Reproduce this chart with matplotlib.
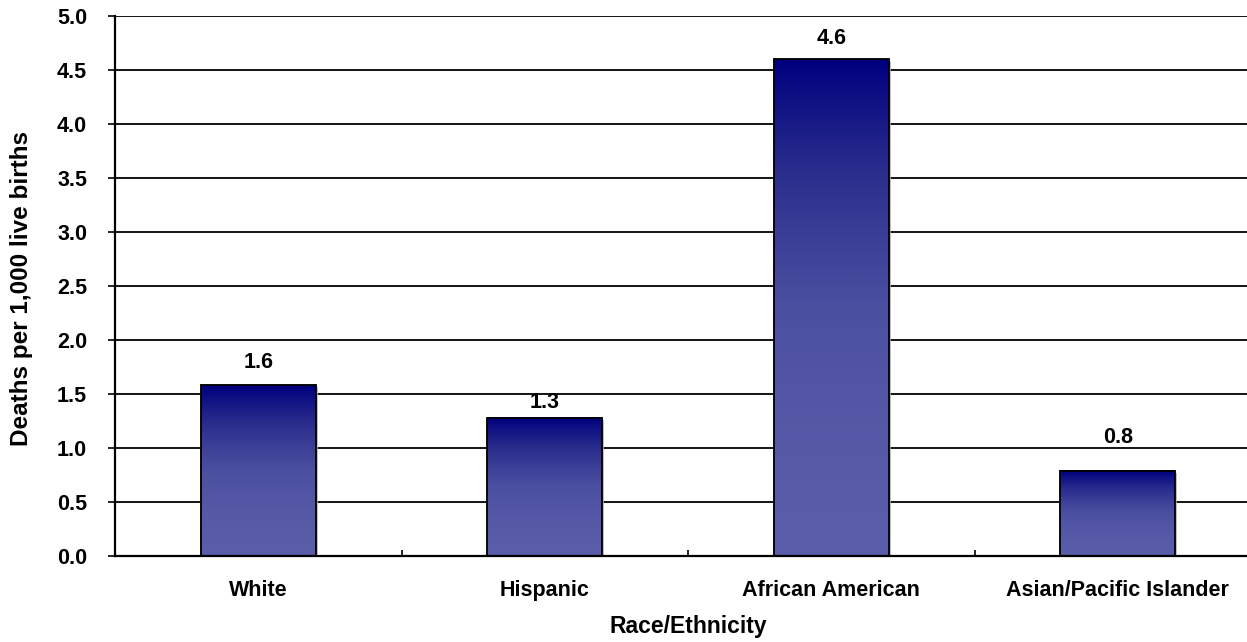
import numpy as np
import matplotlib.pyplot as plt
import matplotlib.patheffects as pe
from matplotlib.colors import LinearSegmentedColormap

categories = ['White', 'Hispanic', 'African American', 'Asian/Pacific Islander']
rates = [1.58, 1.28, 4.6, 0.79]
rate_labels = ['1.6', '1.3', '4.6', '0.8']
yticks = [0.0, 0.5, 1.0, 1.5, 2.0, 2.5, 3.0, 3.5, 4.0, 4.5, 5.0]

plt.rcParams['font.family'] = ['Liberation Sans', 'DejaVu Sans']
plt.rcParams['font.weight'] = 'bold'

fig = plt.figure(figsize=(12.47, 6.42), dpi=100)
# the plot area runs past the right edge, as in the original
ax = fig.add_axes([115 / 1247, 86 / 642, 1146 / 1247, 540 / 642])

# degradé du bleu marine (haut) vers le bleu ardoise (bas)
cmap = LinearSegmentedColormap.from_list('bar', ['#5a5da9', '#4b4fa0', '#2a2d8c', '#00007f'])
x = np.arange(len(categories))
width = 0.40
grad = np.linspace(0, 1, 256).reshape(-1, 1) ** 1.6

# décalage des étiquettes au-dessus des barres (placement irrégulier de l'original)
label_gap = [0.215, 0.14, 0.195, 0.31]

for xi, v, lab, gap in zip(x, rates, rate_labels, label_gap):
    ax.bar(xi, v, width=width, facecolor='none', edgecolor='#9a9a9a', linewidth=1.3, zorder=1.9,
           path_effects=[pe.withSimplePatchShadow(offset=(1.5, -1.5), shadow_rgbFace='#b0b0b0', alpha=0.8)])
    ax.imshow(grad, cmap=cmap, origin='lower', aspect='auto',
              extent=[xi - width / 2, xi + width / 2, 0, v], zorder=2)
    ax.bar(xi, v, width=width, facecolor='none', edgecolor='black', linewidth=1.3, zorder=3)
    ax.text(xi, v + gap, lab, ha='center', va='center', fontsize=15.5, fontweight='bold')

ax.set_xlim(-0.5, len(categories) - 0.5)
ax.set_ylim(0, 5)
ax.set_yticks(yticks)
ax.set_yticklabels([f'{t:.1f}' for t in yticks])
ax.yaxis.grid(True, color='black', linewidth=1.3, zorder=0)
ax.set_axisbelow(True)

ax.set_xticks(x)
ax.set_xticklabels(categories)
ax.set_xticks(np.arange(len(categories)) + 0.5, minor=True)
ax.tick_params(axis='x', which='both', direction='in', length=4, width=1.2, pad=17.5, labelsize=15.5)
ax.tick_params(axis='y', direction='out', length=5, width=1.2, pad=15, labelsize=15.5)

for s in ['top', 'right']:
    ax.spines[s].set_visible(False)
for s in ['left', 'bottom']:
    ax.spines[s].set_linewidth(1.6)

fig.text(688 / 1247, 1 - 627 / 642, 'Race/Ethnicity', ha='center', va='center',
         fontsize=16.5, fontweight='bold')
fig.text(22 / 1247, 1 - 289 / 642, 'Deaths per 1,000 live births', ha='center', va='center',
         rotation=90, fontsize=17.5, fontweight='bold')

plt.savefig('out.png', dpi=100)
